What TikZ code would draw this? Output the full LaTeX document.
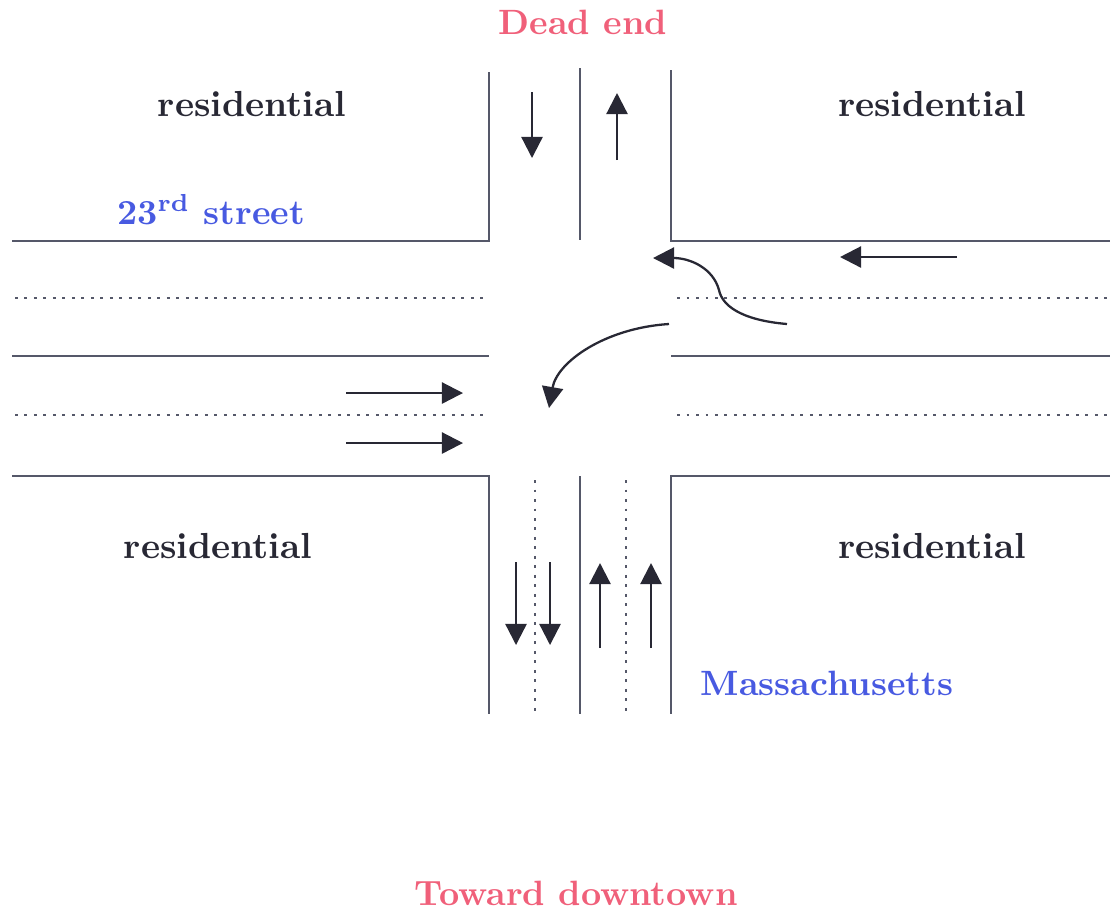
\documentclass[tikz,border=0pt]{standalone}
\usetikzlibrary{arrows.meta}
\definecolor{roadgray}{RGB}{85,88,105}
\definecolor{signpink}{RGB}{240,96,122}
\definecolor{streetblue}{RGB}{72,90,225}
\definecolor{inkdark}{RGB}{40,40,52}
\tikzset{
	curb/.style={roadgray, line width=0.7pt},
	lanedot/.style={roadgray, line width=0.8pt, dash pattern=on 0.8pt off 1.9pt},
	flow/.style={inkdark, line width=0.65pt, -{Triangle[length=6pt,width=6pt]}},
	zone/.style={inkdark, font=\bfseries\fontsize{10.3}{12}\selectfont},
	sign/.style={signpink, font=\bfseries\fontsize{10}{12}\selectfont},
	street/.style={streetblue, font=\bfseries\fontsize{10}{12}\selectfont}
}
\begin{document}
\begin{tikzpicture}[x=0.01cm,y=-0.01cm]
\useasboundingbox (0,0) rectangle (1110,914);

% curbs of the four blocks
\draw[curb] (12,241) -- (489,241) -- (489,72);
\draw[curb] (1110,241) -- (671,241) -- (671,70);
\draw[curb] (12,476) -- (489,476) -- (489,714);
\draw[curb] (1110,476) -- (671,476) -- (671,714);

% centre lines
\draw[curb] (580,68) -- (580,240);
\draw[curb] (580,476) -- (580,714);
\draw[curb] (12,356) -- (489,356);
\draw[curb] (671,356) -- (1110,356);

% lane markings
\foreach \y in {298,415} {
	\draw[lanedot] (15,\y) -- (489,\y);
	\draw[lanedot] (677,\y) -- (1110,\y);
}
\foreach \x in {535,626}
	\draw[lanedot] (\x,480) -- (\x,714);

% traffic
\draw[flow] (532,92) -- (532,158);
\draw[flow] (617,160) -- (617,93);
\draw[flow] (957,257) -- (840,257);
\foreach \y in {393,443}
	\draw[flow] (346,\y) -- (463,\y);
\foreach \x in {516,550}
	\draw[flow] (\x,562) -- (\x,645);
\foreach \x in {600,651}
	\draw[flow] (\x,648) -- (\x,563);
\draw[flow] (787,324) .. controls (740,320) and (722,305) .. (719,290)
	.. controls (713,268) and (690,258) .. (653,258);
\draw[flow] (669,324) .. controls (605,328) and (557,362) .. (549,408);

% labels
\node[sign] (deadend) at (583,22) {Dead end};
\node[sign] (downtown) at (576,893) {Toward downtown};
\node[zone] (resnw) at (252,104) {residential};
\node[zone] (resne) at (932,104) {residential};
\node[zone] (ressw) at (218,546) {residential};
\node[zone] (resse) at (932,546) {residential};
\node[street] (rdst) at (211,210) {23\textsuperscript{rd} street};
\node[street] (mass) at (827,683) {Massachusetts};
\end{tikzpicture}
\end{document}
